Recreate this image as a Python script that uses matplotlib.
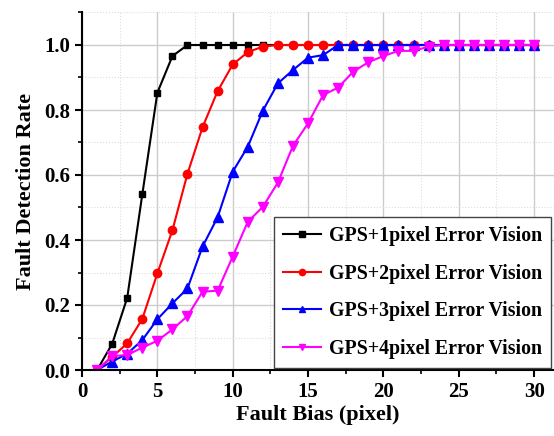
import numpy as np
import matplotlib
matplotlib.use('Agg')
import matplotlib.pyplot as plt
from matplotlib.ticker import MultipleLocator

plt.rcParams['font.family'] = ['Liberation Serif', 'DejaVu Serif']
plt.rcParams['font.weight'] = 'bold'

bias = np.arange(1, 31)

# detection rate for each vision error level
gps_1px = [0.0, 0.08, 0.222, 0.54, 0.853, 0.966, 1.0, 1.0, 1.0, 1.0,
           1.0, 1.0, 1.0, 1.0, 1.0, 1.0, 1.0, 1.0, 1.0, 1.0,
           1.0, 1.0, 1.0, 1.0, 1.0, 1.0, 1.0, 1.0, 1.0, 1.0]
gps_2px = [0.0, 0.04, 0.082, 0.157, 0.297, 0.43, 0.604, 0.747, 0.858, 0.94,
           0.978, 0.995, 1.0, 1.0, 1.0, 1.0, 1.0, 1.0, 1.0, 1.0,
           1.0, 1.0, 1.0, 1.0, 1.0, 1.0, 1.0, 1.0, 1.0, 1.0]
gps_3px = [0.0, 0.026, 0.05, 0.092, 0.156, 0.205, 0.251, 0.38, 0.47, 0.61,
           0.687, 0.798, 0.882, 0.923, 0.961, 0.969, 1.0, 1.0, 1.0, 1.0,
           1.0, 1.0, 1.0, 1.0, 1.0, 1.0, 1.0, 1.0, 1.0, 1.0]
gps_4px = [0.0, 0.043, 0.046, 0.069, 0.09, 0.125, 0.166, 0.241, 0.244, 0.349,
           0.456, 0.502, 0.577, 0.69, 0.759, 0.846, 0.869, 0.918, 0.947, 0.966,
           0.982, 0.982, 0.995, 1.0, 1.0, 1.0, 1.0, 1.0, 1.0, 1.0]

labels = ['GPS+1pixel Error Vision', 'GPS+2pixel Error Vision',
          'GPS+3pixel Error Vision', 'GPS+4pixel Error Vision']

fig = plt.figure(figsize=(5.54, 4.36), dpi=100)
ax = fig.add_axes([82 / 554, 66 / 436, 1 - 82 / 554, (370 - 12) / 436])

ax.plot(bias, gps_1px, color='black', marker='s', ms=5, lw=1.5, label=labels[0])
ax.plot(bias, gps_2px, color='red', marker='o', ms=6, lw=1.5, label=labels[1])
ax.plot(bias, gps_3px, color='blue', marker='^', ms=6.5, lw=1.5, label=labels[2])
ax.plot(bias, gps_4px, color='magenta', marker='v', ms=6.5, lw=1.5, label=labels[3])

ax.set_xlim(0, 472 / 15.07)
ax.set_ylim(0, 358 / 325)
ax.xaxis.set_major_locator(MultipleLocator(5))
ax.xaxis.set_minor_locator(MultipleLocator(2.5))
ax.yaxis.set_minor_locator(MultipleLocator(0.1))
ax.set_yticks(np.arange(0, 1.01, 0.2))
ax.set_yticklabels(['%.1f' % v for v in np.arange(0, 1.01, 0.2)])

ax.grid(which='major', color='#cccccc', lw=1.0)
ax.grid(which='minor', color='#dddddd', lw=0.8, ls=':')
ax.set_axisbelow(True)

ax.spines['top'].set_visible(False)
ax.spines['right'].set_visible(False)
ax.spines['left'].set_linewidth(1.5)
ax.spines['bottom'].set_linewidth(1.5)
ax.tick_params(which='major', direction='out', length=5, width=1.5, labelsize=15)
ax.tick_params(which='minor', direction='out', length=3, width=1.2)

ax.set_xlabel('Fault Bias (pixel)', fontsize=16, fontweight='bold', labelpad=2)
ax.set_ylabel('Fault Detection Rate', fontsize=16, fontweight='bold', labelpad=6)

leg = ax.legend(loc='lower right', bbox_to_anchor=(0.994, 0.005), fontsize=14.3,
                fancybox=False, framealpha=1, edgecolor='#444444',
                handlelength=1.9, borderpad=0.45, labelspacing=0.9,
                handletextpad=0.4, borderaxespad=0)
for h in leg.legend_handles:
    h.set_markersize(4.5)

fig.savefig('out.png', dpi=100)
